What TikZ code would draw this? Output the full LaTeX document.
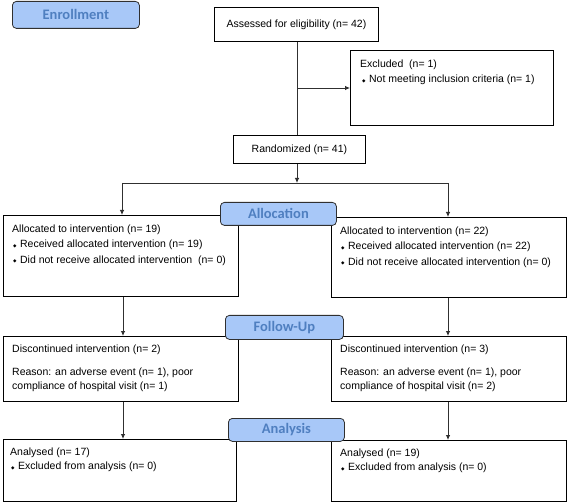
\documentclass[tikz,border=0pt]{standalone}
\usepackage{fontspec}
\setmainfont{Liberation Sans}
\newfontfamily\lblfont{Carlito}
\newfontfamily\symfont{DejaVu Sans}
\usetikzlibrary{arrows.meta}
\definecolor{lblfill}{HTML}{A8C8F8}
\definecolor{lbltext}{HTML}{4F7FC0}
\definecolor{lnc}{HTML}{303030}
\newcommand{\bul}{{\symfont\fontsize{4.5}{5}\selectfont\raisebox{0.6pt}{◆}}\hspace{3.5pt}}
\begin{document}
\begin{tikzpicture}[x=1pt,y=-1pt,
  box/.style={draw=black,line width=0.8pt,anchor=north west,inner sep=0pt,fill=white},
  lbl/.style={draw=lnc,line width=0.8pt,fill=lblfill,rounded corners=4pt,anchor=north west,inner sep=0pt,
     font=\lblfont\bfseries\fontsize{14.5}{16}\selectfont,text=lbltext},
  txt/.style={anchor=north west,inner sep=0pt,align=left,font=\fontsize{10.5}{15.5}\selectfont},
  ctxt/.style={inner sep=0pt,font=\fontsize{10.5}{15.5}\selectfont},
  conn/.style={draw=lnc,line width=0.8pt},
  arr/.style={conn,-{Latex[length=5pt,width=4.5pt]}}]
\useasboundingbox (0,0) rectangle (567,502);
% boxes
\node[box,minimum width=164pt,minimum height=34pt] (assess) at (214,7) {};
\node[box,minimum width=203pt,minimum height=75pt] (excl) at (350,50) {};
\node[box,minimum width=132pt,minimum height=28pt] (rand) at (233,135) {};
\node[box,minimum width=235pt,minimum height=81pt] (al1) at (3,215) {};
\node[box,minimum width=235pt,minimum height=80pt] (al2) at (331,217) {};
\node[box,minimum width=235pt,minimum height=65pt] (fu1) at (3,336) {};
\node[box,minimum width=235pt,minimum height=65pt] (fu2) at (331,336) {};
\node[box,minimum width=233pt,minimum height=62pt] (an1) at (3,439) {};
\node[box,minimum width=235pt,minimum height=61pt] (an2) at (331,440) {};
% texts
\node[ctxt] (tassess) at (assess.center) {Assessed for eligibility (n= 42)};
\node[txt] (texcl) at (360,59.5) {Excluded\ \ (n= 1)\\\hspace{2pt}\bul Not meeting inclusion criteria (n= 1)};
\node[ctxt] (trand) at (rand.center) {Randomized (n= 41)};
\node[txt] (tal1) at (12,224.5) {Allocated to intervention (n= 19)\\\hspace{1pt}\bul Received allocated intervention (n= 19)\\\hspace{1pt}\bul Did not receive allocated intervention\ \ (n= 0)};
\node[txt] (tal2) at (340,226.5) {Allocated to intervention (n= 22)\\\hspace{1pt}\bul Received allocated intervention (n= 22)\\\hspace{1pt}\bul Did not receive allocated intervention (n= 0)};
\node[txt,font=\fontsize{10.5}{14}\selectfont] (tfu1) at (12,344.5) {Discontinued intervention (n= 2)\\[9pt]Reason: an adverse event (n= 1), poor\\compliance of hospital visit (n= 1)};
\node[txt,font=\fontsize{10.5}{14}\selectfont] (tfu2) at (340,344.5) {Discontinued intervention (n= 3)\\[9pt]Reason: an adverse event (n= 1), poor\\compliance of hospital visit (n= 2)};
\node[txt,font=\fontsize{10.5}{14.5}\selectfont] (tan1) at (10,447.5) {Analysed (n= 17)\\\hspace{1pt}\bul Excluded from analysis (n= 0)};
\node[txt,font=\fontsize{10.5}{14.5}\selectfont] (tan2) at (340,448.5) {Analysed (n= 19)\\\hspace{1pt}\bul Excluded from analysis (n= 0)};
% connectors
\coordinate (br) at (297,88);
\coordinate (split) at (297,183);
\coordinate (sl) at (122,183);
\coordinate (sr) at (448,183);
\draw[conn] (assess.south -| br) -- (rand.north -| br);
\draw[arr] (br) -- (excl.west |- br);
\draw[arr] (rand.south -| split) -- (split);
\draw[conn] (sl) -- (sr);
\draw[arr] (sl) -- (al1.north -| sl);
\draw[arr] (sr) -- (al2.north -| sr);
\coordinate (cl) at (123,0);
\draw[arr] (al1.south -| cl) -- (fu1.north -| cl);
\draw[arr] (fu1.south -| cl) -- (an1.north -| cl);
\draw[arr] (al2.south -| sr) -- (fu2.north -| sr);
\draw[arr] (fu2.south -| sr) -- (an2.north -| sr);
% stage labels
\node[lbl,minimum width=127pt,minimum height=27pt] (enroll) at (12,1) {Enrollment};
\node[lbl,minimum width=116pt,minimum height=23pt] (alloc) at (220,202) {Allocation};
\node[lbl,minimum width=118pt,minimum height=24pt] (follow) at (225,315) {Follow-Up};
\node[lbl,minimum width=116pt,minimum height=23pt] (analysis) at (228,418) {Analysis};
\end{tikzpicture}
\end{document}
